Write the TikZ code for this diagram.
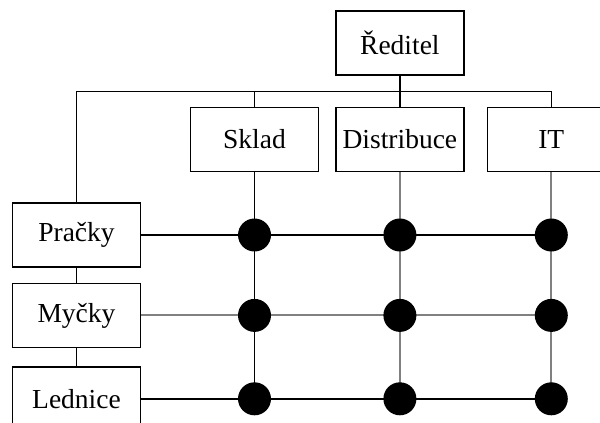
\documentclass[tikz,border=0pt]{standalone}
\usepackage{fontspec}
\setmainfont{Liberation Serif}
\usetikzlibrary{positioning}

\begin{document}
\begin{tikzpicture}[
    x=1pt, y=-1pt,
    font=\fontsize{27.5}{30}\selectfont,
    box/.style={
        draw,
        line width=1.4pt,
        minimum width=128pt,
        minimum height=64pt,
        inner sep=0pt,
        fill=white
    },
    dot/.style={
        circle,
        fill=black,
        minimum size=33pt,
        inner sep=0pt
    },
    line/.style={draw, line width=1.4pt},
    greyline/.style={draw, line width=2pt, black!50}
]

\useasboundingbox (0,0) rectangle (600,423);
\clip (0,0) rectangle (600,423);

\node[box] (sklad) at (254.5,139.5) {Sklad};
\node[box, right=16pt of sklad] (distribuce) {Distribuce};
\node[box, right=22pt of distribuce] (it) {IT};
\node[box, above=31pt of distribuce] (reditel) {Ředitel};

\node[box] (pracky) at (76.5,235) {Pračky};
\node[box, below=15pt of pracky] (mycky) {Myčky};
\node[box, below=18pt of mycky] (lednice) {Lednice};

\coordinate (bus) at (0,91.5);

\foreach \c in {sklad, distribuce, it} {
    \foreach \r in {pracky, mycky, lednice} {
        \coordinate (\c-\r) at (\c |- \r);
    }
}

\draw[line] (reditel.south) -- (distribuce.north);
\draw[line] (pracky.north) |- (it.north |- bus) -- (it.north);
\draw[line] (sklad.north) -- (sklad.north |- bus);

\draw[line] (pracky.south) -- (mycky.north);
\draw[line] (mycky.south) -- (lednice.north);

\draw[line] (sklad.south) -- (sklad-lednice);
\draw[greyline] (distribuce.south) -- (distribuce-lednice);
\draw[greyline] (it.south) -- (it-lednice);

\draw[line] (pracky.east) -- (it-pracky);
\draw[greyline] (mycky.east) -- (it-mycky);
\draw[line] (lednice.east) -- (it-lednice);

\foreach \c in {sklad, distribuce, it} {
    \foreach \r in {pracky, mycky, lednice} {
        \node[dot] (dot-\c-\r) at (\c-\r) {};
    }
}

\end{tikzpicture}
\end{document}
